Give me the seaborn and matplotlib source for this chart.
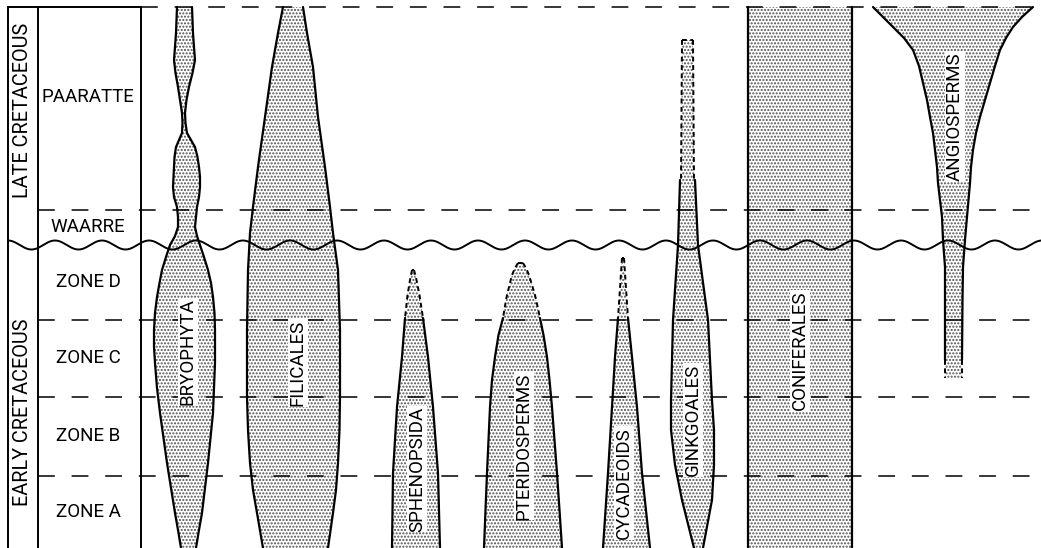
import matplotlib
matplotlib.use("Agg")
import matplotlib.pyplot as plt
import numpy as np
import seaborn as sns

# Range chart of plant groups through the Cretaceous (Otway Basin style).
# Vertical positions in image pixels (0 = top).

zone_names = ["PAARATTE", "WAARRE", "ZONE D", "ZONE C", "ZONE B", "ZONE A"]
zone_label_y = [97, 227, 282, 358, 436, 512]
zone_bounds = [210, 320, 397, 476]          # dashed boundaries
top_level = 7
unconformity = 245
era_names = ["LATE CRETACEOUS", "EARLY CRETACEOUS"]
era_label_y = [110, 412]

# each taxon: levels, left edge, right edge (solid part) and optional dashed part
bryo_y = [7, 20, 33, 47, 60, 73, 87, 100, 113, 123, 133, 140, 147, 157, 167, 177, 187, 197,
          207, 217, 227, 236, 245, 257, 270, 283, 297, 313, 330, 347, 363, 388, 413, 438,
          463, 488, 513, 530, 548]
bryo_l = [177, 176.5, 176, 175, 174, 175.5, 178, 180, 182, 182.5, 182, 179, 176, 174.5, 174,
          173.5, 173, 174, 177, 178, 178, 175, 170, 166, 162, 159.5, 157, 155, 154, 154, 155,
          157, 160, 163.5, 167, 171, 175, 178, 181]
bryo_r = [192, 192.5, 193, 194, 195, 192.5, 189, 186.5, 185, 185.5, 187, 191, 195, 197.5, 199,
          200, 200, 199, 197, 196, 195, 197, 200, 204, 208, 211, 213, 214.5, 215, 215, 215,
          214, 213, 210.5, 208, 205, 202, 199, 196]

fili_y = [7, 33, 67, 117, 167, 207, 233, 270, 300, 330, 397, 430, 463, 490, 513, 548]
fili_l = [283, 278, 272, 265, 258, 253, 250, 248, 247.5, 247, 247, 248, 250, 253, 257, 263]
fili_r = [303, 307, 313, 318, 325, 330, 333, 338, 339, 340, 340, 339.5, 338, 336, 333, 328]

sphe_y = [318, 357, 407, 473, 548]
sphe_l = [405, 402, 397, 393, 392]
sphe_r = [423, 428, 433, 438, 440]
sphe_dy = [270, 280, 295, 318]
sphe_dl = [412, 410, 407.5, 405]
sphe_dr = [414, 416.5, 419.5, 423]

pter_y = [318, 335, 357, 380, 407, 440, 473, 510, 548]
pter_l = [503, 498.5, 495, 492, 490, 488.5, 487, 485.5, 484]
pter_r = [540, 543.5, 547, 549.5, 552, 554.5, 557, 559.5, 562]
pter_dy = [263, 268, 275, 285, 295, 306, 318]
pter_dl = [518, 515, 512, 509.5, 507, 505, 503]
pter_dr = [523, 526, 529, 532, 535, 537.5, 540]

cyca_y = [318, 357, 407, 473, 548]
cyca_l = [618, 615, 612, 608, 603]
cyca_r = [628, 632, 637, 642, 650]
cyca_dy = [258, 318]
cyca_dl = [622, 618]
cyca_dr = [624, 628]

gink_y = [180, 245, 320, 400, 430, 465, 500, 548]
gink_l = [680, 678, 673, 671, 671, 675, 682, 694]
gink_r = [695, 698, 708, 712, 714, 714, 712, 703]
gink_dy = [40, 180]
gink_dl = [682, 681]
gink_dr = [693, 694]

coni_y = [7, 548]
coni_l = [748, 748]
coni_r = [852, 852]

angi_y = [7, 17, 27, 38, 50, 66, 83, 100, 117, 133, 150, 167, 183, 200, 217, 240, 267, 300, 360]
angi_l = [873, 883, 893, 904, 913, 919, 923, 927, 930, 933, 935, 937, 938, 940, 942, 943, 945,
          945, 945]
angi_r = [1033, 1022, 1013, 1006, 1000, 995, 990, 985, 980, 976, 973, 971, 970, 968.5, 967,
          965, 963, 962.5, 962]
angi_dy = [360, 378]
angi_dl = [945, 945]
angi_dr = [962, 962]

taxa = [
    ("BRYOPHYTA", (188, 352), bryo_y, bryo_l, bryo_r, None),
    ("FILICALES", (298, 363), fili_y, fili_l, fili_r, None),
    ("SPHENOPSIDA", (417, 469), sphe_y, sphe_l, sphe_r, (sphe_dy, sphe_dl, sphe_dr)),
    ("PTERIDOSPERMS", (524, 446), pter_y, pter_l, pter_r, (pter_dy, pter_dl, pter_dr)),
    ("CYCADEOIDS", (624, 483), cyca_y, cyca_l, cyca_r, (cyca_dy, cyca_dl, cyca_dr)),
    ("GINKGOALES", (693, 420), gink_y, gink_l, gink_r, (gink_dy, gink_dl, gink_dr)),
    ("CONIFERALES", (800, 350), coni_y, coni_l, coni_r, None),
    ("ANGIOSPERMS", (955, 117), angi_y, angi_l, angi_r, (angi_dy, angi_dl, angi_dr)),
]

sns.set_theme(style="white")
plt.rcParams["font.family"] = ["Roboto", "Liberation Sans", "DejaVu Sans"]
plt.rcParams["hatch.linewidth"] = 1.0

W, H = 1041, 548
fig = plt.figure(figsize=(W / 100, H / 100), dpi=100)
ax = fig.add_axes([0, 0, 1, 1])
ax.set_xlim(0, W)
ax.set_ylim(H, 0)
ax.axis("off")

k = "black"
dots = "#505050"
fsize = 13.5


def stipple(y, l, r):
    ax.fill_betweenx(y, l, r, facecolor="white", hatch=".....", edgecolor=dots,
                     linewidth=0, zorder=1)


for name, (tx, ty), y, l, r, dashed in taxa:
    stipple(y, l, r)
    for edge in (l, r):
        sns.lineplot(x=edge, y=y, sort=False, estimator=None, color=k, lw=1.6,
                     ax=ax, zorder=3)
    if dashed is not None:
        dy, dl, dr = dashed
        stipple(dy, dl, dr)
        ax.plot(dl, dy, color=k, lw=1.4, ls=(0, (2.5, 1.8)), zorder=3)
        ax.plot(dr, dy, color=k, lw=1.4, ls=(0, (2.5, 1.8)), zorder=3)
        if dy[0] < y[0]:
            ax.plot([dl[0], dr[0]], [dy[0], dy[0]], color=k, lw=1.4,
                    ls=(0, (2.5, 1.8)), zorder=3)
    ax.text(tx, ty, name, rotation=90, ha="center", va="center", fontsize=fsize,
            color=k, zorder=6,
            bbox=dict(facecolor="white", edgecolor="none", pad=0.6))

# left column frame
ax.plot([8, 8], [top_level, H], color=k, lw=1.4, zorder=4)
ax.plot([38, 38], [top_level, H], color=k, lw=1.4, zorder=4)
ax.plot([141, 141], [top_level, H], color=k, lw=1.4, zorder=4)
ax.plot([8, 141], [top_level, top_level], color=k, lw=1.4, zorder=4)

# dashed boundaries
dash = (0, (11, 11))
ax.plot([141, W], [top_level, top_level], color=k, lw=1.1, ls=dash, zorder=2)
for yb in zone_bounds:
    ax.plot([38, W], [yb, yb], color=k, lw=1.1, ls=dash, zorder=2)

# unconformity
wx = np.linspace(8, W, 3000)
wy = unconformity - 4.5 * np.cos(2 * np.pi * (wx - 8) / 47)
ax.plot(wx, wy, color=k, lw=1.4, zorder=4)

for name, yy in zip(zone_names, zone_label_y):
    ax.text(88, yy, name, ha="center", va="center", fontsize=fsize, color=k, zorder=6)
for name, yy in zip(era_names, era_label_y):
    ax.text(23, yy, name, rotation=90, ha="center", va="center", fontsize=fsize + 0.8,
            color=k, zorder=6)

fig.savefig("out.png", dpi=100)
